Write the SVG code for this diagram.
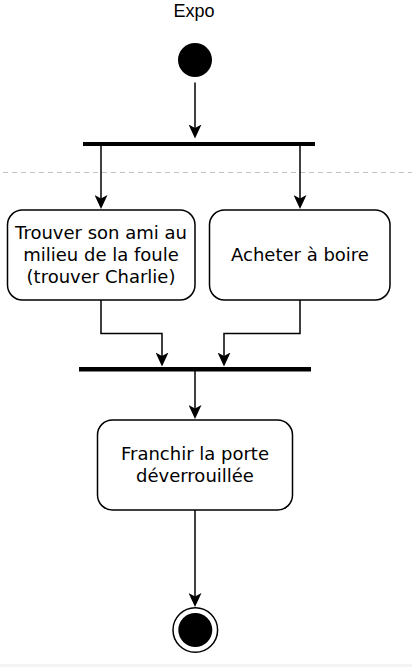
<svg xmlns="http://www.w3.org/2000/svg" width="412" height="667" viewBox="0 0 412 667">
  <style>
    .lbl { font-family: "DejaVu Sans", sans-serif; font-size: 18px; fill: #000; text-anchor: middle; }
    .title { font-family: "Liberation Sans", Arial, sans-serif; font-size: 18px; fill: #000; text-anchor: middle; }
    .act { fill: #fff; stroke: #000; stroke-width: 1.5; }
    .bar { fill: #000; }
    .edge { fill: none; stroke: #000; stroke-width: 1.5; marker-end: url(#arr); }
  </style>
  <defs>
    <marker id="arr" viewBox="0 0 14 13" refX="11" refY="6.5" markerWidth="14" markerHeight="13" markerUnits="userSpaceOnUse" orient="auto">
      <path d="M14,6.5 L0,0 L3.5,6.5 L0,13 Z" fill="#000"/>
    </marker>
  </defs>
  <rect x="0" y="0" width="412" height="667" fill="#fff"/>
  <rect x="0" y="664" width="412" height="3" fill="#f4f4f4"/>

  <text class="title" x="194" y="17">Expo</text>

  <line x1="3" y1="172.5" x2="412" y2="172.5" stroke="#c3c3c3" stroke-width="1" stroke-dasharray="5 4"/>

  <g id="connectors">
    <path class="edge" d="M195,82.5 L195,135.5"/>
    <path class="edge" d="M101,146 L101,206"/>
    <path class="edge" d="M300,146 L300,206"/>
    <path class="edge" d="M101,300 L101,333.5 L162,333.5 L162,363.5"/>
    <path class="edge" d="M300,300 L300,333.5 L224,333.5 L224,363.5"/>
    <path class="edge" d="M195,371 L195,416"/>
    <path class="edge" d="M195,510 L195,604"/>
  </g>

  <g id="start">
    <circle cx="195" cy="60" r="17" fill="#000"/>
  </g>

  <g id="fork">
    <rect class="bar" x="83" y="142" width="232" height="4"/>
  </g>

  <g id="trouver">
    <rect class="act" x="7.5" y="210" width="187.5" height="90" rx="15" ry="15"/>
    <text class="lbl" x="101" y="239.4">Trouver son ami au</text>
    <text class="lbl" x="101" y="261">milieu de la foule</text>
    <text class="lbl" x="101" y="282.6">(trouver Charlie)</text>
  </g>

  <g id="acheter">
    <rect class="act" x="209.5" y="210" width="180.5" height="90" rx="15" ry="15"/>
    <text class="lbl" x="300" y="261">Acheter à boire</text>
  </g>

  <g id="join">
    <rect class="bar" x="79" y="367" width="232" height="4.5"/>
  </g>

  <g id="franchir">
    <rect class="act" x="97.5" y="420" width="195" height="90" rx="15" ry="15"/>
    <text class="lbl" x="195" y="460.2">Franchir la porte</text>
    <text class="lbl" x="195" y="481.8">déverrouillée</text>
  </g>

  <g id="end">
    <circle cx="195.3" cy="630" r="22.3" fill="#fff" stroke="#000" stroke-width="1.5"/>
    <circle cx="195.3" cy="630" r="17" fill="#000"/>
  </g>
</svg>
